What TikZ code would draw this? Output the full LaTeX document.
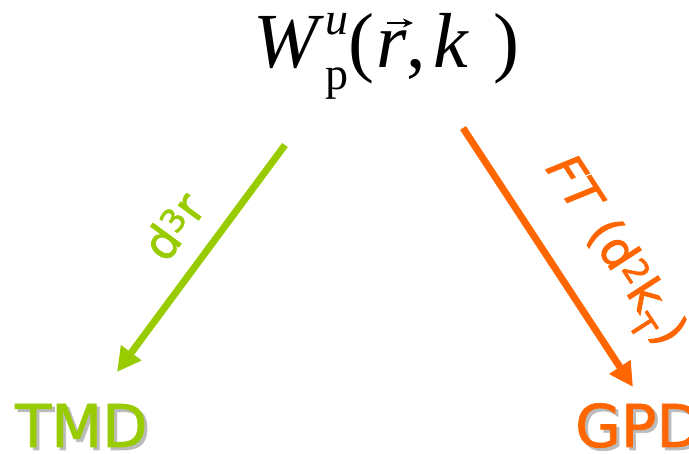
\documentclass[tikz,border=0pt]{standalone}
\usepackage{fontspec}
\setmainfont{Liberation Serif}
\newfontfamily\labelfont[FakeBold=1.8]{DejaVu Sans}
\newfontfamily\namefont[FakeBold=1.2]{DejaVu Sans}
\usetikzlibrary{arrows.meta}
\definecolor{tmdgreen}{HTML}{99CC00}
\definecolor{gpdorange}{HTML}{FF6600}
\definecolor{shadowgray}{HTML}{BBBBBB}
\tikzset{
  conn/.style={line width=7pt, -{Triangle[length=24pt,width=24pt]}},
  vecarrow/.style={line width=2pt, -{Stealth[length=10pt,width=9pt]}},
  bigname/.style={inner sep=0, anchor=base west, font=\namefont\fontsize{59}{60}\selectfont},
  edgelabel/.style={inner sep=0, font=\labelfont\fontsize{46}{48}\selectfont}
}
\begin{document}
\begin{tikzpicture}[x=1pt,y=1pt]
\useasboundingbox (0,0) rectangle (689,-454);
% formula
\node[inner sep=0, anchor=base west] (formula) at (253,-68)
  {\fontsize{78}{90}\selectfont\textit{W}\kern1pt\rlap{\raisebox{33pt}{\fontsize{46}{46}\selectfont\textit{u}}}\raisebox{-22pt}{\fontsize{46}{46}\selectfont p}\kern0pt(\kern2pt\textit{r}\kern0pt,\kern7pt\textit{k}\kern25pt)};
\coordinate (vs) at (387,-23);
\coordinate (ve) at (413,-23);
\draw[vecarrow] (vs) -- (ve);
% arrow end points
\coordinate (gs) at (285,-145);
\coordinate (ge) at (117,-372);
\coordinate (os) at (463,-128);
\coordinate (oe) at (633,-387);
\draw[conn, tmdgreen] (gs) -- (ge);
\draw[conn, gpdorange] (os) -- (oe);
% labels on the arrows
\node[edgelabel, text=tmdgreen, rotate=53.7] (d3r) at (173,-226) {d\textsuperscript{3}r};
\node[edgelabel, text=gpdorange, rotate=-57, font=\labelfont\fontsize{48}{50}\selectfont] (ft) at (612,-253) {\textit{FT}\kern16pt(d\textsuperscript{2}k\textsubscript{T})};
% TMD / GPD with shadow
\node[bigname, text=shadowgray] (tmdshadow) at (18,-450) {TMD};
\node[bigname, text=tmdgreen] (tmd) at (15,-447) {TMD};
\node[bigname, text=shadowgray] (gpdshadow) at (578,-450) {GPD};
\node[bigname, text=gpdorange] (gpd) at (575,-447) {GPD};
\end{tikzpicture}
\end{document}
